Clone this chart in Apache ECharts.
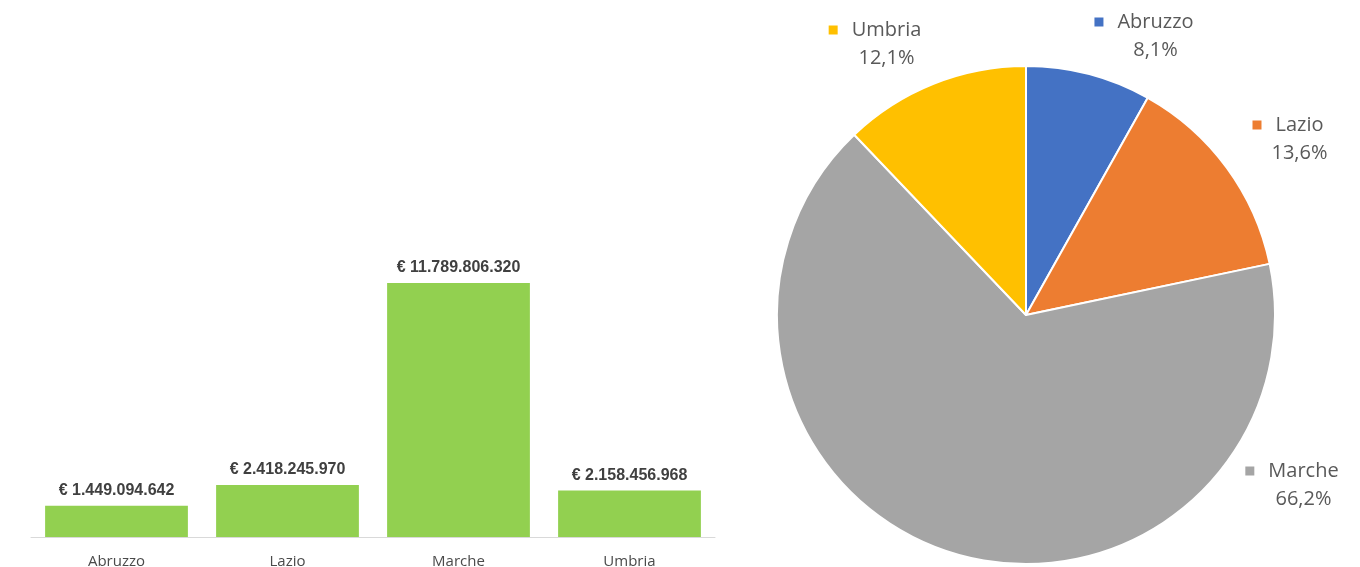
<!DOCTYPE html>
<html>
<head>
<meta charset="utf-8">
<script src="https://cdn.jsdelivr.net/npm/echarts@6/dist/echarts.min.js"></script>
<style>
html,body{margin:0;padding:0;background:#fff;}
#chart{width:1360px;height:567px;}
</style>
</head>
<body>
<div id="chart"></div>
<script>
// ---- data ----
const categories = ['Abruzzo', 'Lazio', 'Marche', 'Umbria'];
const amounts = [1449094642, 2418245970, 11789806320, 2158456968];
const pieOrder = ['Abruzzo', 'Lazio', 'Marche', 'Umbria'];
const pieColors = ['#4472c4', '#ed7d31', '#a5a5a5', '#ffc000'];

// ---- layout (pie label anchor points, pixels) ----
const pieLabelPos = [[1144, 36], [1288, 139], [1292, 485], [875, 44]];

function fmtEuro(v) {
  return '€ ' + String(v).replace(/\B(?=(\d{3})+(?!\d))/g, '.');
}
const total = amounts.reduce((a, b) => a + b, 0);
function fmtPct(v) {
  return (v / total * 100).toFixed(1).replace('.', ',') + '%';
}

const rich = {
  g: { width: 14, height: 10 },
  sp: { width: 23, height: 10 },
  n: { fontFamily: 'Open Sans', fontSize: 20, color: '#595959', lineHeight: 28 },
  p: { fontFamily: 'Open Sans', fontSize: 20, color: '#595959', lineHeight: 28 }
};
pieColors.forEach((c, i) => { rich['m' + i] = { width: 9, height: 9, backgroundColor: c }; });

const chart = echarts.init(document.getElementById('chart'), null, { renderer: 'canvas' });
chart.setOption({
  animation: false,
  backgroundColor: '#ffffff',
  grid: { left: 31, right: 645, top: 278.5, bottom: 30, containLabel: false, outerBoundsMode: 'none' },
  xAxis: {
    type: 'category',
    data: categories,
    axisLine: { show: true, lineStyle: { color: '#d9d9d9', width: 1 } },
    axisTick: { show: false },
    axisLabel: { color: '#4a4a4a', fontFamily: 'Open Sans', fontSize: 15, margin: 17 }
  },
  yAxis: { type: 'value', min: 0, max: 12000000000, show: false, splitLine: { show: false } },
  series: [
    {
      type: 'bar',
      data: amounts,
      barCategoryGap: '16.5%',
      itemStyle: { color: '#92d050' },
      label: {
        show: true, position: 'top', distance: 7,
        fontFamily: 'Liberation Sans', fontWeight: 'bold', fontSize: 16, color: '#404040',
        formatter: p => fmtEuro(p.value)
      }
    },
    {
      type: 'pie',
      center: [1026, 315],
      radius: 249,
      startAngle: 90,
      clockwise: true,
      data: pieOrder.map((n, i) => ({ name: n, value: amounts[categories.indexOf(n)], itemStyle: { color: pieColors[i] } })),
      itemStyle: { borderColor: '#ffffff', borderWidth: 2 },
      label: {
        show: true, position: 'outside', overflow: 'none',
        formatter: p => '{m' + p.dataIndex + '|}{g|}{n|' + p.name + '}\n{sp|}{p|' + fmtPct(p.value) + '}',
        rich: rich
      },
      labelLine: { show: false },
      labelLayout: function (params) {
        const pos = pieLabelPos[params.dataIndex];
        return { x: pos[0], y: pos[1], align: 'center', verticalAlign: 'middle', hideOverlap: false };
      },
      emphasis: { disabled: true }
    }
  ]
});
</script>
</body>
</html>
